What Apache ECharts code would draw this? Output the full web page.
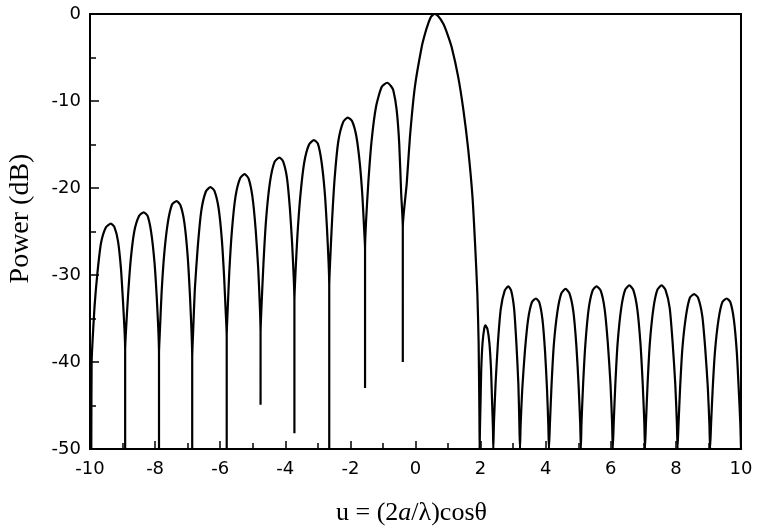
<!DOCTYPE html>
<html>
<head>
<meta charset="utf-8">
<script src="https://cdn.jsdelivr.net/npm/echarts@6/dist/echarts.min.js"></script>
<style>
html,body{margin:0;padding:0;background:#fff;}
#chart{width:757px;height:527px;}
</style>
</head>
<body>
<div id="chart"></div>
<script>
// u values and power (dB), as [u, dB] pairs
const leftSidelobes = [
  [-9.96,-50],[-9.95,-40],[-9.92,-37.5],[-9.86,-33.6],[-9.77,-29.7],[-9.66,-26.3],[-9.51,-24.5],[-9.36,-24.1],[-9.25,-24.5],[-9.14,-26.1],[-9.05,-29.2],[-8.99,-32.8],[-8.94,-36.3],[-8.92,-38.6],[-8.92,-50],[-8.92,-38.6],
  [-8.89,-36.1],[-8.83,-32.3],[-8.75,-28.3],[-8.64,-25.0],[-8.49,-23.2],[-8.35,-22.8],[-8.23,-23.2],[-8.12,-25.1],[-8.02,-28.5],[-7.95,-32.5],[-7.90,-36.4],[-7.88,-39],[-7.88,-50],[-7.88,-39],
  [-7.85,-36.2],[-7.80,-32.0],[-7.72,-27.6],[-7.61,-24.0],[-7.48,-21.9],[-7.34,-21.5],[-7.22,-22.0],[-7.10,-24.0],[-7.00,-27.8],[-6.93,-32.3],[-6.88,-36.6],[-6.86,-39.5],[-6.86,-50],[-6.86,-39.5],
  [-6.83,-36.4],[-6.78,-31.7],[-6.69,-26.8],[-6.58,-22.6],[-6.44,-20.4],[-6.30,-19.9],[-6.18,-20.3],[-6.05,-22.3],[-5.95,-25.9],[-5.88,-30.2],[-5.83,-34.3],[-5.80,-37],[-5.80,-50],[-5.80,-37],
  [-5.77,-34.0],[-5.72,-29.6],[-5.64,-24.9],[-5.53,-21.0],[-5.39,-18.9],[-5.25,-18.4],[-5.13,-18.9],[-5.01,-21.0],[-4.91,-24.8],[-4.83,-29.4],[-4.78,-33.8],[-4.76,-36.7],[-4.76,-44.9],[-4.76,-36.7],
  [-4.73,-33.5],[-4.67,-28.6],[-4.59,-23.6],[-4.47,-19.3],[-4.33,-17.0],[-4.18,-16.5],[-4.07,-16.9],[-3.95,-18.8],[-3.86,-22.3],[-3.79,-26.4],[-3.74,-30.4],[-3.72,-33],[-3.72,-48.2],[-3.72,-33],
  [-3.69,-30.0],[-3.63,-25.6],[-3.54,-21.0],[-3.42,-17.1],[-3.27,-15.0],[-3.12,-14.5],[-3.00,-14.9],[-2.89,-16.9],[-2.79,-20.4],[-2.72,-24.6],[-2.67,-28.6],[-2.65,-31.3],[-2.65,-50],[-2.65,-31.3],
  [-2.62,-28.2],[-2.56,-23.5],[-2.48,-18.7],[-2.37,-14.6],[-2.22,-12.4],[-2.08,-11.9],[-1.95,-12.3],[-1.82,-14.0],[-1.71,-17.2],[-1.63,-21.0],[-1.58,-24.6],[-1.55,-27],[-1.55,-43],[-1.55,-27],
  [-1.52,-23.9],[-1.45,-19.4],[-1.35,-14.6],[-1.21,-10.6],[-1.04,-8.4],[-0.87,-7.9],[-0.75,-8.3],[-0.68,-8.8],[-0.58,-11.0],[-0.50,-14.9],[-0.44,-20.6],[-0.39,-24.5],[-0.39,-40],[-0.39,-24.5]
];
const mainLobe = [
  [-0.27,-19.5],[-0.17,-14.1],[-0.02,-8.4],[0.19,-3.8],[0.29,-2.3],[0.39,-1.1],[0.48,-0.3],[0.58,0],[0.70,-0.25],[0.85,-1.1],[0.98,-2.3],[1.11,-3.8],[1.31,-7.2],[1.47,-11.0],[1.62,-15.6],[1.75,-21.0],[1.83,-26.4],[1.90,-32.1],[1.94,-37.9],[1.965,-46.7],[1.97,-50]
];
const rightSidelobes = [
  [1.98,-47.7],[2.00,-44.3],[2.02,-40.8],[2.06,-37.8],[2.11,-36.2],[2.15,-35.8],[2.21,-36.2],[2.27,-37.8],[2.32,-40.8],[2.35,-44.3],[2.38,-47.7],[2.39,-50],
  [2.41,-47.0],[2.46,-42.5],[2.53,-37.9],[2.62,-33.9],[2.74,-31.8],[2.85,-31.3],[2.94,-31.8],[3.03,-33.9],[3.10,-37.9],[3.16,-42.5],[3.19,-47.0],[3.21,-50],
  [3.23,-47.2],[3.28,-43.1],[3.36,-38.8],[3.46,-35.1],[3.58,-33.1],[3.70,-32.7],[3.80,-33.1],[3.90,-35.1],[3.98,-38.8],[4.04,-43.1],[4.08,-47.2],[4.10,-50],
  [4.13,-47.1],[4.18,-42.6],[4.25,-38.0],[4.36,-34.2],[4.48,-32.1],[4.61,-31.6],[4.73,-32.1],[4.85,-34.2],[4.94,-38.0],[5.01,-42.6],[5.06,-47.1],[5.08,-50],
  [5.10,-47.0],[5.15,-42.5],[5.22,-37.9],[5.32,-33.9],[5.44,-31.8],[5.56,-31.3],[5.69,-31.8],[5.81,-33.9],[5.91,-37.9],[5.99,-42.5],[6.04,-47.0],[6.06,-50],
  [6.09,-47.0],[6.14,-42.5],[6.21,-37.8],[6.32,-33.8],[6.44,-31.7],[6.57,-31.2],[6.69,-31.7],[6.81,-33.8],[6.91,-37.8],[6.98,-42.5],[7.03,-47.0],[7.05,-50],
  [7.08,-47.0],[7.13,-42.5],[7.20,-37.8],[7.31,-33.8],[7.43,-31.7],[7.56,-31.2],[7.68,-31.7],[7.81,-33.8],[7.90,-37.8],[7.98,-42.5],[8.03,-47.0],[8.05,-50],
  [8.08,-47.2],[8.13,-42.9],[8.20,-38.4],[8.31,-34.7],[8.43,-32.6],[8.56,-32.2],[8.68,-32.6],[8.81,-34.7],[8.90,-38.4],[8.98,-42.9],[9.03,-47.2],[9.05,-50],
  [9.08,-47.2],[9.13,-43.1],[9.20,-38.8],[9.31,-35.1],[9.43,-33.1],[9.56,-32.7],[9.67,-33.1],[9.78,-35.1],[9.87,-38.8],[9.93,-43.1],[9.98,-47.2],[10.0,-50]
];
const xTicks = [-10, 10, 2];   // min, max, step
const yTicks = [-50, 0, 10];

const chart = echarts.init(document.getElementById('chart'), null, {renderer: 'canvas'});
const axisFont = {color: '#000', fontSize: 18, fontFamily: 'DejaVu Sans'};
chart.setOption({
  animation: false,
  backgroundColor: '#fff',
  grid: {left: 90, right: 16, top: 14, bottom: 78, show: true, borderColor: '#000', borderWidth: 2, backgroundColor: 'transparent', containLabel: false, outerBoundsMode: 'none'},
  xAxis: {
    type: 'value', min: xTicks[0], max: xTicks[1], interval: xTicks[2],
    axisLine: {show: true, onZero: false, lineStyle: {color: '#000', width: 2}},
    axisTick: {show: true, inside: true, length: 8, lineStyle: {color: '#000', width: 1.5}},
    minorTick: {show: true, splitNumber: 2, length: 6, lineStyle: {color: '#000', width: 1.5}},
    splitLine: {show: false},
    axisLabel: Object.assign({margin: 11}, axisFont),
    name: 'u = (2{i|a}/λ)cosθ',
    nameLocation: 'middle', nameGap: 51,
    nameTextStyle: {color: '#000', fontSize: 26, fontFamily: 'Liberation Serif', padding: [0, 8, 0, 0],
      rich: {i: {fontStyle: 'italic', fontSize: 26, fontFamily: 'Liberation Serif', color: '#000'}}}
  },
  yAxis: {
    type: 'value', min: yTicks[0], max: yTicks[1], interval: yTicks[2],
    axisLine: {show: true, onZero: false, lineStyle: {color: '#000', width: 2}},
    axisTick: {show: true, inside: true, length: 9, lineStyle: {color: '#000', width: 1.5}},
    minorTick: {show: true, splitNumber: 2, length: 6, lineStyle: {color: '#000', width: 1.5}},
    splitLine: {show: false},
    axisLabel: Object.assign({margin: 9}, axisFont),
    name: 'Power (dB)',
    nameLocation: 'middle', nameGap: 55, nameRotate: 90,
    nameTextStyle: {color: '#000', fontSize: 28, fontFamily: 'Liberation Serif', padding: [0, 0, 0, 26]}
  },
  series: [{
    type: 'line',
    data: leftSidelobes.concat(mainLobe, rightSidelobes),
    showSymbol: false,
    smooth: 0.2,
    clip: true,
    lineStyle: {color: '#000', width: 2.2}
  }]
});
</script>
</body>
</html>
